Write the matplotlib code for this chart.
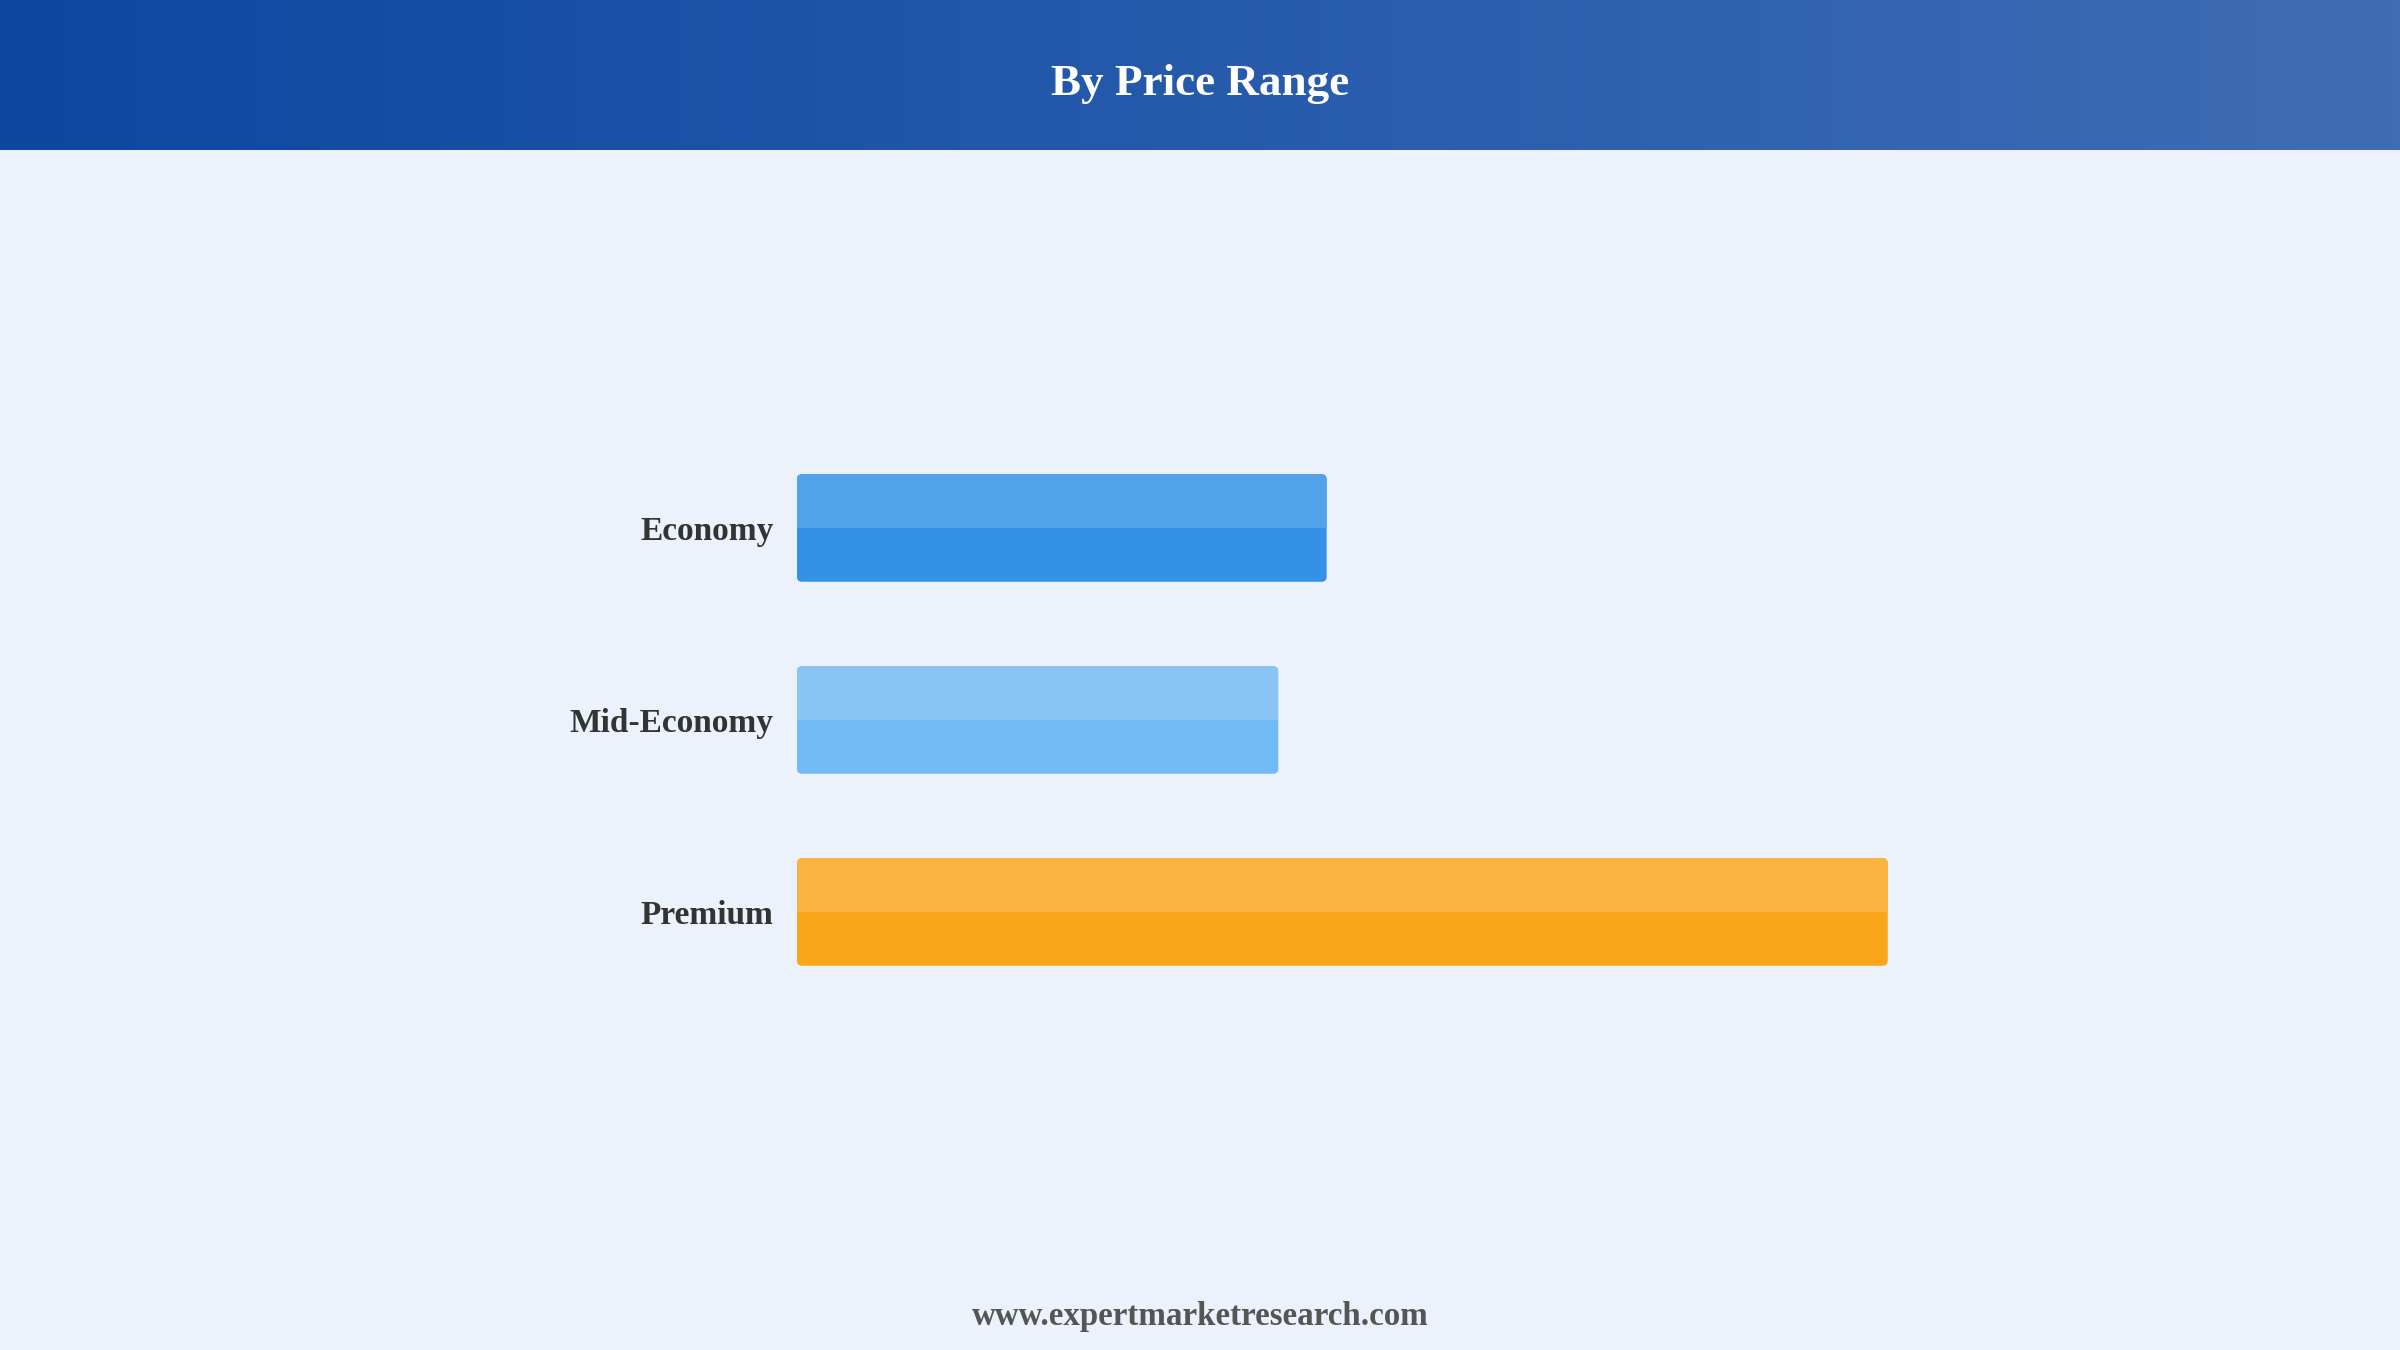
import numpy as np
import matplotlib.pyplot as plt
from matplotlib.patches import FancyBboxPatch, Rectangle
from matplotlib.colors import LinearSegmentedColormap

# ============================================================================
# DATA
# ============================================================================
categories = ['Economy', 'Mid-Economy', 'Premium']
values = [25.2, 22.9, 51.9]
dark_colors = ['#3391e6', '#71baf4', '#faa61a']
light_colors = ['#52a3ea', '#89c4f5', '#fbb441']

title = 'By Price Range'
footer = 'www.expertmarketresearch.com'

BG = '#ebf2fb'
W, H = 2400, 1350

plt.rcParams['font.family'] = ['Liberation Serif', 'DejaVu Serif']

fig = plt.figure(figsize=(24, 13.5), dpi=100, facecolor=BG)

# ---- header with gradient ----
head_h = 150
hax = fig.add_axes([0, 1 - head_h / H, 1, head_h / H])
grad = np.linspace(0, 1, 512).reshape(1, -1)
cmap = LinearSegmentedColormap.from_list('hdr', ['#0d47a1', '#3f6db5'])
hax.imshow(grad, aspect='auto', cmap=cmap, extent=[0, 1, 0, 1])
hax.set_axis_off()
hax.text(0.5, 1 - 84 / head_h, title, ha='center', va='center',
         color='white', fontsize=32.5, fontweight='bold', transform=hax.transAxes)

# ---- bar chart ----
left_px, right_px = 797, 2100
top_px, bottom_px = 240, 1200
ax = fig.add_axes([left_px / W, (H - bottom_px) / H,
                   (right_px - left_px) / W, (bottom_px - top_px) / H])
ax.set_facecolor(BG)

xmax = 62.0
ax.set_xlim(0, xmax)
ax.set_ylim(len(categories) - 1 + 1.5, -1.5)

bar_h = 0.56
px_per_x = (right_px - left_px) / xmax
px_per_y = (bottom_px - top_px) / (len(categories) + 2)
r = 5 / px_per_x
aspect = px_per_x / px_per_y

for i, (v, dc, lc) in enumerate(zip(values, dark_colors, light_colors)):
    y0 = i - bar_h / 2
    box = FancyBboxPatch((0, y0), v, bar_h,
                         boxstyle=f'round,pad=0,rounding_size={r}',
                         mutation_aspect=aspect,
                         facecolor=dc, edgecolor='none')
    ax.add_patch(box)
    top = Rectangle((0, y0), v, bar_h / 2, facecolor=lc, edgecolor='none')
    ax.add_patch(top)
    top.set_clip_path(box)

ax.set_yticks(range(len(categories)))
ax.set_yticklabels(categories, fontsize=24, fontweight='bold', color='#333333')
ax.tick_params(axis='y', length=0, pad=17)
ax.set_xticks([])
for s in ax.spines.values():
    s.set_visible(False)

fig.text(0.5, 1 - 1317 / H, footer, ha='center', va='center',
         fontsize=23.8, fontweight='bold', color='#555555')

plt.savefig('out.png', dpi=100, facecolor=BG)
